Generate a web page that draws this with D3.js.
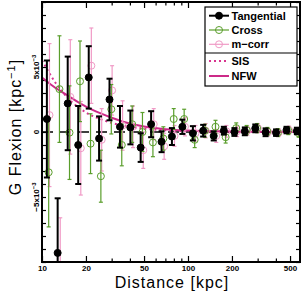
<!DOCTYPE html>
<html>
<head>
<meta charset="utf-8">
<script src="https://cdn.jsdelivr.net/npm/d3@7.9.0/dist/d3.min.js"></script>
<style>
  body { margin: 0; background: #fff; }
  svg { display: block; font-family: "Liberation Sans", Arial, sans-serif; }
</style>
</head>
<body>
<svg width="304" height="294"></svg>
<script>
// radial bins [kpc]
const distance = [10.8, 12.8, 15.0, 17.7, 20.9, 24.6, 29.0, 34.2, 40.3, 47.4, 55.9, 65.9, 77.6,
  91.5, 108, 127, 150, 176, 208, 245, 289, 340, 401, 473, 557];

// flexion values, in units of 1e-3 kpc^-1
const tangential = [1.0, -9.3, 2.2, -1.0, 4.2, -0.5, 2.5, 0.4, 0.35, -1.2, 0.6, -0.75, -0.35,
  0.4, -0.1, 0.1, -0.3, 0.1, 0.0, 0.05, 0.28, -0.02, -0.05, 0.15, 0.08];
const tangentialErr = [4.5, 4.2, 3.6, 3.0, 2.4, 1.7, 1.6, 1.6, 1.3, 1.1, 1.0, 0.8, 0.65,
  0.55, 0.55, 0.45, 0.35, 0.3, 0.3, 0.3, 0.3, 0.3, 0.25, 0.25, 0.25];

const cross = [-3.1, 3.3, -0.05, 3.9, -0.9, -3.4, 1.75, -1.0, 0.6, 0.0, -0.8, -0.5, 1.0,
  1.0, -0.6, 0.1, 0.4, -0.4, 0.3, 0.15, 0.3, 0.05, -0.05, 0.1, -0.1];
const crossErr = [4.2, 4.1, 3.6, 3.1, 2.3, 2.0, 1.9, 1.6, 1.4, 1.5, 1.1, 0.9, 0.8,
  0.75, 0.6, 0.5, 0.5, 0.45, 0.4, 0.35, 0.35, 0.3, 0.3, 0.3, 0.3];

const mcorr = [1.3, -11.5, 2.7, -1.25, 5.1, -0.6, 3.2, 0.5, 0.4, -1.4, 0.6, -1.1, -0.3,
  0.4, -0.1, 0.1, -0.3, 0.05, 0.05, 0.1, 0.3, 0.0, -0.05, 0.15, 0.05];
const mcorrErr = [5.5, 4.9, 4.4, 3.6, 2.9, 2.4, 1.9, 1.9, 1.6, 1.4, 1.2, 1.0, 0.8,
  0.7, 0.6, 0.55, 0.5, 0.45, 0.4, 0.35, 0.35, 0.3, 0.3, 0.3, 0.3];

// model curves
const sisR = [10, 11, 12, 14, 16, 18, 20, 25, 30, 40, 50, 70, 100, 200, 585];
const sisG = [5.5, 4.7, 4.0, 3.0, 2.3, 1.85, 1.5, 1.0, 0.7, 0.4, 0.26, 0.13, 0.065, 0.016, 0.002];
const nfwR = [10, 12, 15, 20, 25, 30, 40, 50, 70, 100, 150, 200, 300, 585];
const nfwG = [4.2, 3.5, 2.8, 1.95, 1.45, 1.1, 0.65, 0.42, 0.22, 0.12, 0.06, 0.03, 0.015, 0.004];

const xTicks = [10, 20, 50, 100, 200, 500];
const xMinor = [30, 40, 60, 70, 80, 90, 300, 400];
const yTicks = d3.range(-10, 11);

const pLeft = 42, pRight = 300, pTop = 2, pBottom = 262;
const x = d3.scaleLog().domain([10, 585]).range([pLeft, pRight]);
const y = d3.scaleLinear().domain([-10, 10]).range([pBottom, pTop]);

const svg = d3.select('svg');

svg.append('clipPath').attr('id', 'clip')
  .append('rect').attr('x', pLeft).attr('y', pTop)
  .attr('width', pRight - pLeft).attr('height', pBottom - pTop);

// axes, ticks pointing inward
const tickStyle = (g) => {
  g.select('.domain').remove();
  g.selectAll('.tick line').attr('stroke', '#000').attr('stroke-width', 1.2);
};

svg.append('g').attr('transform', `translate(0,${pBottom})`)
  .call(d3.axisBottom(x).tickValues(xTicks).tickSize(-6).tickPadding(3.5).tickFormat(d3.format('d')))
  .call(tickStyle)
  .call(g => g.selectAll('text').attr('font-size', 8).attr('font-weight', 'bold')
    .attr('font-family', '"Liberation Sans", Arial, sans-serif').attr('fill', '#000'));
svg.append('g').attr('transform', `translate(0,${pBottom})`)
  .call(d3.axisBottom(x).tickValues(xMinor).tickSize(-3.5).tickFormat(''))
  .call(tickStyle);
svg.append('g').attr('transform', `translate(0,${pTop})`)
  .call(d3.axisTop(x).tickValues(xTicks).tickSize(-6).tickFormat(''))
  .call(tickStyle);
svg.append('g').attr('transform', `translate(0,${pTop})`)
  .call(d3.axisTop(x).tickValues(xMinor).tickSize(-3.5).tickFormat(''))
  .call(tickStyle);
svg.append('g').attr('transform', `translate(${pLeft},0)`)
  .call(d3.axisLeft(y).tickValues(yTicks).tickSize(-4).tickFormat(''))
  .call(tickStyle);
svg.append('g').attr('transform', `translate(${pRight},0)`)
  .call(d3.axisRight(y).tickValues(yTicks).tickSize(-4).tickFormat(''))
  .call(tickStyle);

// rotated y tick labels
const yLab = [{v: 5, t: '5x10', s: '\u22123'}, {v: 0, t: '0', s: ''}, {v: -5, t: '\u22125x10', s: '\u22123'}];
yLab.forEach(d => {
  const t = svg.append('text')
    .attr('transform', `translate(39,${y(d.v)}) rotate(-90)`)
    .attr('text-anchor', 'middle')
    .attr('font-size', 8).attr('font-weight', 'bold');
  t.append('tspan').text(d.t);
  if (d.s) t.append('tspan').attr('font-size', 6).attr('dy', -3.5).text(d.s);
});

const plot = svg.append('g').attr('clip-path', 'url(#clip)');

// zero line
plot.append('line')
  .attr('x1', pLeft).attr('x2', pRight).attr('y1', y(0)).attr('y2', y(0))
  .attr('stroke', '#000').attr('stroke-width', 1.5).attr('stroke-dasharray', '11,7');

// model curves
const line = d3.line().x(d => x(d[0])).y(d => y(d[1])).curve(d3.curveMonotoneX);
plot.append('path').datum(d3.zip(sisR, sisG)).attr('d', line)
  .attr('fill', 'none').attr('stroke', '#d8348f').attr('stroke-width', 2)
  .attr('stroke-dasharray', '2,3');
plot.append('path').datum(d3.zip(nfwR, nfwG)).attr('d', line)
  .attr('fill', 'none').attr('stroke', '#cc2a88').attr('stroke-width', 2);

function drawSeries(vals, errs, opt) {
  const g = plot.append('g');
  const rows = d3.zip(distance, vals, errs);
  rows.forEach(([r, v, e]) => {
    const cx = x(r) + opt.dx;
    g.append('line').attr('x1', cx).attr('x2', cx).attr('y1', y(v - e)).attr('y2', y(v + e))
      .attr('stroke', opt.color).attr('stroke-width', opt.bw);
    [v - e, v + e].forEach(c => {
      g.append('line').attr('x1', cx - opt.cap).attr('x2', cx + opt.cap)
        .attr('y1', y(c)).attr('y2', y(c))
        .attr('stroke', opt.color).attr('stroke-width', opt.bw);
    });
    g.append('circle').attr('cx', cx).attr('cy', y(v)).attr('r', 3.5)
      .attr('fill', opt.fill).attr('stroke', opt.color).attr('stroke-width', 1);
  });
}

const pink = '#f09ac6', green = '#5a9e2c';
drawSeries(mcorr, mcorrErr, {dx: 2.6, color: pink, fill: 'none', bw: 1.2, cap: 2});
drawSeries(cross, crossErr, {dx: 1.8, color: green, fill: 'none', bw: 1.2, cap: 2});
drawSeries(tangential, tangentialErr, {dx: 0, color: '#000', fill: '#000', bw: 2, cap: 3});

// frame
svg.append('rect').attr('x', pLeft).attr('y', pTop)
  .attr('width', pRight - pLeft).attr('height', pBottom - pTop)
  .attr('fill', 'none').attr('stroke', '#000').attr('stroke-width', 2);

// legend
const lg = svg.append('g');
lg.append('rect').attr('x', 205).attr('y', 7).attr('width', 92).attr('height', 79)
  .attr('fill', '#fff').attr('stroke', '#000').attr('stroke-width', 1.2);
lg.append('line').attr('x1', 205).attr('x2', 297).attr('y1', 53).attr('y2', 53)
  .attr('stroke', '#000').attr('stroke-width', 1.2);

const legendItems = [
  {label: 'Tangential', y: 15.7, color: '#000', fill: '#000', w: 2, dot: true},
  {label: 'Cross', y: 30, color: green, fill: 'none', w: 1.2, dot: true},
  {label: 'm\u2212corr', y: 44.3, color: pink, fill: 'none', w: 1.2, dot: true},
  {label: 'SIS', y: 61, color: '#d8348f', w: 2, dash: '2,3'},
  {label: 'NFW', y: 76, color: '#cc2a88', w: 2}
];
legendItems.forEach(d => {
  lg.append('line').attr('x1', 209).attr('x2', 229).attr('y1', d.y).attr('y2', d.y)
    .attr('stroke', d.color).attr('stroke-width', d.w)
    .attr('stroke-dasharray', d.dash || null);
  if (d.dot) {
    lg.append('circle').attr('cx', 219).attr('cy', d.y).attr('r', 3.5)
      .attr('fill', d.fill).attr('stroke', d.color).attr('stroke-width', 1);
  }
  lg.append('text').attr('x', 231.5).attr('y', d.y).attr('dy', '0.36em')
    .attr('font-size', 11).attr('font-weight', 'bold').text(d.label);
});

// axis titles
svg.append('text').attr('x', 172).attr('y', 288).attr('text-anchor', 'middle')
  .attr('font-size', 16).attr('letter-spacing', 1).text('Distance [kpc]');

const yt = svg.append('text')
  .attr('transform', `translate(21,127) rotate(-90)`)
  .attr('text-anchor', 'middle').attr('font-size', 16).attr('letter-spacing', 1);
yt.append('tspan').text('G Flexion [kpc');
yt.append('tspan').attr('font-size', 11).attr('dy', -6).text('\u22121');
yt.append('tspan').attr('dy', 6).text(']');
</script>
</body>
</html>
